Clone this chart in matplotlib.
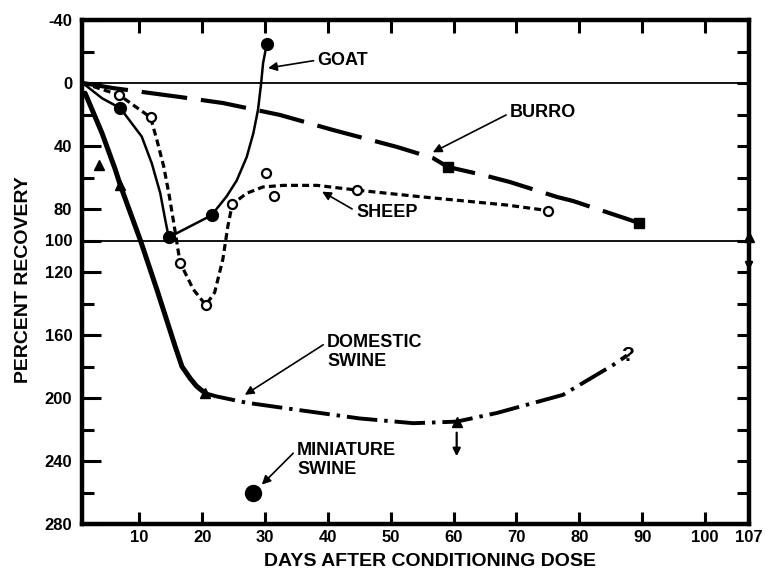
import matplotlib
matplotlib.use("Agg")
import matplotlib.pyplot as plt

plt.rcParams['font.family'] = ['Liberation Sans', 'DejaVu Sans']
plt.rcParams['font.weight'] = 'bold'
plt.rcParams['lines.scale_dashes'] = False

# ---------------- data ----------------
goat_line_x = [1, 4.1, 7.0, 10.4, 12.0, 13.35, 14.15, 14.7, 21.5, 23.9, 25.5, 27.1,
               28.15, 28.9, 29.4, 29.7, 30.3]
goat_line_y = [0, 9.7, 16, 34, 51, 70, 87, 98, 84, 72, 62, 47,
               32, 17, 0, -12.5, -25]
goat_pts_x = [7.0, 14.7, 21.5, 30.3]
goat_pts_y = [16, 98, 84, -25]

sheep_line_x = [1, 6.8, 11.8, 12.8, 13.9, 14.8, 15.5, 16.5, 18.6, 20.6, 22.0, 23.3, 24.1, 24.8,
                27.1, 29.7, 32.9, 38.3, 44.6, 54.2, 68.5, 75.0]
sheep_line_y = [0, 7.6, 21.8, 36, 53, 72, 89, 114, 131, 141, 133, 112, 91, 77,
                70, 66, 65, 65, 68, 72, 77.5, 81]
sheep_pts_x = [6.8, 11.8, 16.5, 20.6, 24.8, 30.2, 31.4, 44.6, 75.0]
sheep_pts_y = [7.6, 21.8, 114, 141, 77, 57, 72, 68, 81]

burro_line_x = [1, 5.8, 16.5, 23.3, 32.4, 40.8, 51.0, 56.7, 59.1, 64.7, 69.0, 76.5, 79.0, 87.6, 89.5]
burro_line_y = [0, 3.2, 8.9, 12.7, 20.3, 29.8, 40.6, 47.6, 53.3, 58.4, 62.9, 72.4, 74.9, 86.3, 88.9]
burro_pts_x = [59.1, 89.5]
burro_pts_y = [53.3, 88.9]

dswine_solid_x = [1.4, 4.1, 6.2, 7.0, 10.2, 12.8, 15.7, 16.8, 18.1, 19.1, 20.5]
dswine_solid_y = [6.5, 32, 55, 65, 100, 131, 167, 180, 187.5, 192.4, 197]
dswine_dash_x = [20.5, 22.3, 27.1, 32.4, 45.1, 53.6, 60.5, 66.9, 77.4, 85.4, 87.6]
dswine_dash_y = [197, 199, 203, 206, 213, 216, 215, 209.5, 198, 179, 173]
dswine_pts_x = [3.6, 7.0, 20.5, 60.5, 107]
dswine_pts_y = [52, 65, 197, 215, 98]
dswine_uncertain_x = 87.8
dswine_uncertain_y = 173

mswine_x = [28.1]
mswine_y = [260]

x_ticks = [10, 20, 30, 40, 50, 60, 70, 80, 90, 100, 107]
x_tick_labels = ['10', '20', '30', '40', '50', '60', '70', '80', '90', '100', '107']
y_major = [-40, 0, 40, 80, 100, 120, 160, 200, 240, 280]
y_major_labels = ['-40', '0', '40', '80', '100', '120', '160', '200', '240', '280']
y_minor = [-20, 20, 60, 140, 180, 220, 260]

# ---------------- figure ----------------
fig = plt.figure(figsize=(7.65, 5.72), dpi=100)
ax = fig.add_axes([82/765, 48/572, 667/765, 504/572])
ax.set_xlim(0.9, 107)
ax.set_ylim(280, -40)

for s in ax.spines.values():
    s.set_linewidth(3.2)

ax.axhline(0, color='black', lw=1.3, zorder=1)
ax.axhline(100, color='black', lw=1.3, zorder=1)

# Goat
ax.plot(goat_line_x, goat_line_y, color='black', lw=1.8, solid_capstyle='round',
        solid_joinstyle='round', zorder=3)
ax.plot(goat_pts_x, goat_pts_y, 'o', color='black', ms=8.5, zorder=4)

# Sheep
ax.plot(sheep_line_x, sheep_line_y, color='black', lw=2.3, dashes=(5, 3), zorder=3)
ax.plot(sheep_pts_x, sheep_pts_y, 'o', mfc='white', mec='black', mew=1.6, ms=6.5, zorder=4)

# Burro
ax.plot(burro_line_x, burro_line_y, color='black', lw=3.0, dashes=(33, 10), zorder=3)
ax.plot(burro_pts_x, burro_pts_y, 's', color='black', ms=7, zorder=4)

# Domestic swine
ax.plot(dswine_solid_x, dswine_solid_y, color='black', lw=3.6, solid_capstyle='round',
        solid_joinstyle='round', zorder=3)
ax.plot(dswine_dash_x, dswine_dash_y, color='black', lw=2.8, dashes=(22, 5, 2.5, 5), zorder=3)
ax.plot(dswine_pts_x, dswine_pts_y, '^', color='black', ms=7.5, zorder=5, clip_on=False)
ax.text(dswine_uncertain_x, dswine_uncertain_y, '?', fontsize=15, fontweight='bold',
        ha='center', va='center', zorder=6)

# down arrows ("greater than")
arrow_kw = dict(arrowstyle='-|>', color='black', lw=1.6, mutation_scale=11, shrinkA=0, shrinkB=0)
ax.annotate('', xy=(60.5, 237), xytext=(60.5, 222), arrowprops=arrow_kw, annotation_clip=False)
ax.annotate('', xy=(107, 119), xytext=(107, 103), arrowprops=arrow_kw, annotation_clip=False)

# Miniature swine
ax.plot(mswine_x, mswine_y, 'o', color='black', ms=11.5, zorder=4)

# ---------------- labels / annotations ----------------
lab_kw = dict(fontsize=13, fontweight='bold', ha='left', va='center', linespacing=1.15)
def label(text, xy, xytext, relpos):
    ax.annotate(text, xy=xy, xytext=xytext,
                arrowprops=dict(arrowstyle='-|>', color='black', lw=1.2,
                                mutation_scale=13, shrinkA=1, shrinkB=0, relpos=relpos),
                **lab_kw)

label('GOAT', (30.5, -9.5), (38.4, -14.6), (0, 0.5))
label('BURRO', (56.7, 44), (69.0, 19), (0, 0.5))
label('SHEEP', (39.1, 69), (44.5, 82.5), (0, 0.6))
label('DOMESTIC\nSWINE', (26.8, 198), (39.9, 171), (0, 0.78))
label('MINIATURE\nSWINE', (29.5, 255), (35.1, 239.5), (0, 0.8))

# ---------------- ticks ----------------
ax.set_xticks(x_ticks)
ax.set_xticklabels(x_tick_labels)
ax.set_yticks(y_major)
ax.set_yticklabels(y_major_labels)
ax.set_yticks(y_minor, minor=True)
ax.tick_params(axis='x', which='major', direction='in', length=9, width=2.2,
               top=True, bottom=True, labelsize=12, pad=4)
ax.tick_params(axis='y', which='major', direction='in', length=14, width=2.2,
               left=True, right=False, labelsize=12, pad=7)
ax.tick_params(axis='y', which='minor', direction='in', length=8.5, width=2.2,
               left=True, right=False)
for lbl in ax.get_xticklabels() + ax.get_yticklabels():
    lbl.set_fontweight('bold')
# the 107 position is the right spine itself: no separate tick mark
ax.xaxis.get_major_ticks()[-1].tick1line.set_visible(False)
ax.xaxis.get_major_ticks()[-1].tick2line.set_visible(False)

# right-side ticks (all the same length)
axr = ax.twinx()
axr.set_ylim(280, -40)
axr.set_yticks(sorted(y_major + y_minor))
axr.tick_params(axis='y', direction='in', length=9, width=2.2, labelright=False)
for s in axr.spines.values():
    s.set_visible(False)

fig.text(430/765, 1 - 561/572, 'DAYS AFTER CONDITIONING DOSE', fontsize=14,
         fontweight='bold', ha='center', va='center')
fig.text(24/765, 1 - 280/572, 'PERCENT RECOVERY', fontsize=14, fontweight='bold',
         rotation=90, ha='center', va='center')

fig.savefig('out.png', dpi=100)
